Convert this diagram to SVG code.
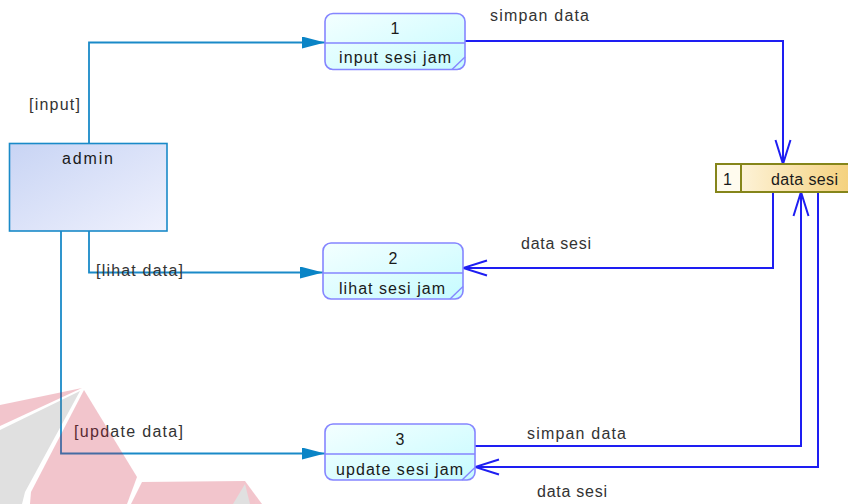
<svg xmlns="http://www.w3.org/2000/svg" width="848" height="504" viewBox="0 0 848 504">
<defs>
<style>
.lbl{font-family:"Liberation Sans",Arial,sans-serif;font-size:16px;fill:#333;}
.txt{font-family:"Liberation Sans",Arial,sans-serif;font-size:16px;fill:#1a1a1a;}
.proc{fill:url(#gProc);stroke:#8585ff;stroke-width:1.6;}
.pdiv{stroke:#8585ff;stroke-width:1.4;fill:none;}
.flowA{fill:none;stroke:#1a8ac8;stroke-width:1.8;}
.flowB{fill:none;stroke:#1e1ef2;stroke-width:2;}
</style>
<linearGradient id="gProc" x1="0" y1="0" x2="1" y2="1">
<stop offset="0" stop-color="#f4ffff"/>
<stop offset="1" stop-color="#c6fbff"/>
</linearGradient>
<linearGradient id="gAdmin" x1="0" y1="0" x2="1" y2="1">
<stop offset="0" stop-color="#c8d4f4"/>
<stop offset="1" stop-color="#eff1fd"/>
</linearGradient>
<linearGradient id="gStore" x1="0" y1="0" x2="1" y2="0">
<stop offset="0" stop-color="#fffaec"/>
<stop offset="1" stop-color="#f4cf78"/>
</linearGradient>
<marker id="arrA" markerUnits="userSpaceOnUse" markerWidth="24" markerHeight="12" refX="23" refY="6" orient="auto">
<path d="M0,0 L23,6 L0,12 z" fill="#0a84c6"/>
</marker>
<marker id="arrB" markerUnits="userSpaceOnUse" markerWidth="28" markerHeight="20" refX="25" refY="10" orient="auto">
<path d="M1,2.5 L25,10 L1,17.5" fill="none" stroke="#1e1ef2" stroke-width="2"/>
</marker>
</defs>
<rect width="848" height="504" fill="#ffffff"/>

<g id="connectors">
<path class="flowA" d="M89,143 V42.5 H325" marker-end="url(#arrA)"/>
<path class="flowA" d="M89,231 V272.5 H323" marker-end="url(#arrA)"/>
<path class="flowA" d="M61,231 V453.5 H325" marker-end="url(#arrA)"/>
<path class="flowB" d="M465,41 H783 V164" marker-end="url(#arrB)"/>
<path class="flowB" d="M773,192 V268 H463" marker-end="url(#arrB)"/>
<path class="flowB" d="M475,446 H801 V192" marker-end="url(#arrB)"/>
<path class="flowB" d="M818,192 V467 H475" marker-end="url(#arrB)"/>
<text class="lbl" x="29" y="109.5" textLength="51" lengthAdjust="spacing">[input]</text>
<text class="lbl" x="96" y="276" textLength="87" lengthAdjust="spacing">[lihat data]</text>
<text class="lbl" x="74" y="437" textLength="109" lengthAdjust="spacing">[update data]</text>
<text class="lbl" x="490" y="20.5" textLength="99" lengthAdjust="spacing">simpan data</text>
<text class="lbl" x="521" y="249" textLength="70" lengthAdjust="spacing">data sesi</text>
<text class="lbl" x="527" y="439" textLength="99" lengthAdjust="spacing">simpan data</text>
<text class="lbl" x="537" y="497" textLength="70" lengthAdjust="spacing">data sesi</text>
</g>

<g id="admin">
<rect x="9.5" y="143.5" width="157.5" height="87.5" fill="url(#gAdmin)" stroke="#1a8ac8" stroke-width="1.6"/>
<text class="txt" x="62" y="164" textLength="51" lengthAdjust="spacing">admin</text>
</g>

<g id="p1">
<rect class="proc" x="325" y="13.5" width="140" height="56" rx="8"/>
<line class="pdiv" x1="325" y1="43" x2="465" y2="43"/>
<line class="pdiv" x1="452" y1="69.5" x2="465" y2="57"/>
<text class="txt" x="395" y="34" text-anchor="middle">1</text>
<text class="txt" x="339" y="63" textLength="112" lengthAdjust="spacing">input sesi jam</text>
</g>

<g id="p2">
<rect class="proc" x="323" y="243" width="140" height="56" rx="8"/>
<line class="pdiv" x1="323" y1="273" x2="463" y2="273"/>
<line class="pdiv" x1="450" y1="299" x2="463" y2="286.5"/>
<text class="txt" x="393" y="264" text-anchor="middle">2</text>
<text class="txt" x="339" y="294" textLength="106" lengthAdjust="spacing">lihat sesi jam</text>
</g>

<g id="p3">
<rect class="proc" x="325" y="424" width="150" height="56" rx="8"/>
<line class="pdiv" x1="325" y1="454" x2="475" y2="454"/>
<line class="pdiv" x1="462" y1="480" x2="475" y2="467.5"/>
<text class="txt" x="400" y="445" text-anchor="middle">3</text>
<text class="txt" x="336" y="475" textLength="127" lengthAdjust="spacing">update sesi jam</text>
</g>

<g id="store">
<rect x="716" y="164" width="140" height="28" fill="url(#gStore)" stroke="#85851a" stroke-width="2"/>
<rect x="716" y="164" width="25" height="28" fill="#fffbee" stroke="#85851a" stroke-width="2"/>
<text class="txt" x="727.5" y="185" text-anchor="middle">1</text>
<text class="txt" x="771" y="185" textLength="67" lengthAdjust="spacing">data sesi</text>
</g>

<g id="watermark" opacity="0.24">
<polygon points="0,405 82,388 0,426" fill="#cc1030"/>
<polygon points="0,430 80,391 25,492 22,504 0,504" fill="#808080"/>
<polygon points="84,390 137,477 127,504 30,504 31,492" fill="#cc1030"/>
<polygon points="142,482 245,481 262,504 131,504" fill="#cc1030"/>
<polygon points="245,484 250,504 233,504" fill="#808080"/>
</g>
</svg>
